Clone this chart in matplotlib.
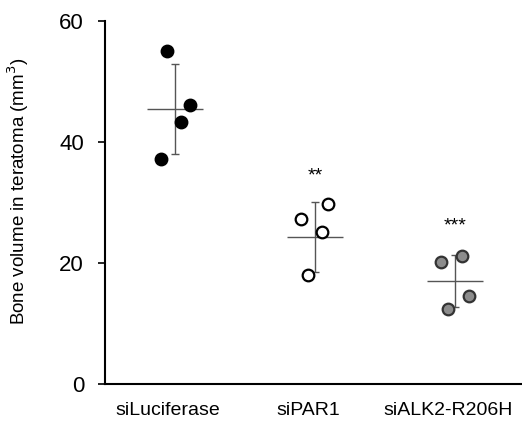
import numpy as np
import matplotlib.pyplot as plt
import matplotlib.transforms as mtransforms

plt.rcParams['font.family'] = ['Liberation Sans', 'DejaVu Sans']

groups = ['siLuciferase', 'siPAR1', 'siALK2-R206H']
values = [
    [55.0, 46.1, 43.3, 37.2],
    [29.7, 27.3, 25.1, 18.1],
    [21.2, 20.2, 14.5, 12.4],
]
means = [45.4, 24.3, 17.0]
err_hi = [52.9, 30.1, 21.3]
err_lo = [38.0, 18.5, 12.7]
stars = ['', '**', '***']
star_y = [None, 33.0, 24.8]

# horizontal spread of the dots inside each group
jitter = [
    [-0.057, 0.107, 0.043, -0.10],
    [0.095, -0.10, 0.05, -0.048],
    [0.05, -0.10, 0.10, -0.05],
]
faces = ['black', 'white', '#8c8c8c']
edges = ['black', 'black', '#333333']

fig = plt.figure(figsize=(5.22, 4.30), dpi=100)
ax = fig.add_axes([0.201, 0.107, 0.799, 0.844])

for i in range(len(groups)):
    xs = i + np.array(jitter[i])
    ax.scatter(xs, values[i], s=70, facecolor=faces[i], edgecolor=edges[i],
               linewidth=1.6, zorder=3)
    ax.hlines(means[i], i - 0.2, i + 0.2, color='#555555', lw=1.0, zorder=2)
    ax.errorbar(i, means[i],
                yerr=[[means[i] - err_lo[i]], [err_hi[i] - means[i]]],
                fmt='none', ecolor='#555555', elinewidth=1.0, capsize=3,
                capthick=1.0, zorder=2)
    if stars[i]:
        ax.text(i, star_y[i], stars[i], ha='center', va='bottom', fontsize=14)

ax.set_xlim(-0.5, 2.48)
ax.set_ylim(0, 60)
ax.set_yticks([0, 20, 40, 60])
ax.set_xticks(range(len(groups)))
ax.set_xticklabels(groups, fontsize=14)
ax.tick_params(axis='y', labelsize=16, length=5, width=1.2, direction='out', pad=10)
ax.tick_params(axis='x', length=0, pad=13)

# category labels sit a little left of the dot columns
shift = mtransforms.ScaledTranslation(-7 / 100, 0, fig.dpi_scale_trans)
for lab in ax.get_xticklabels():
    lab.set_transform(lab.get_transform() + shift)

ax.set_ylabel('Bone volume in teratoma (mm$^3$)', fontsize=13.5)
ax.yaxis.set_label_coords(-0.178, 0.53)

for side in ['top', 'right']:
    ax.spines[side].set_visible(False)
ax.spines['left'].set_linewidth(1.5)
ax.spines['bottom'].set_linewidth(1.5)

fig.savefig('out.png', dpi=100)
